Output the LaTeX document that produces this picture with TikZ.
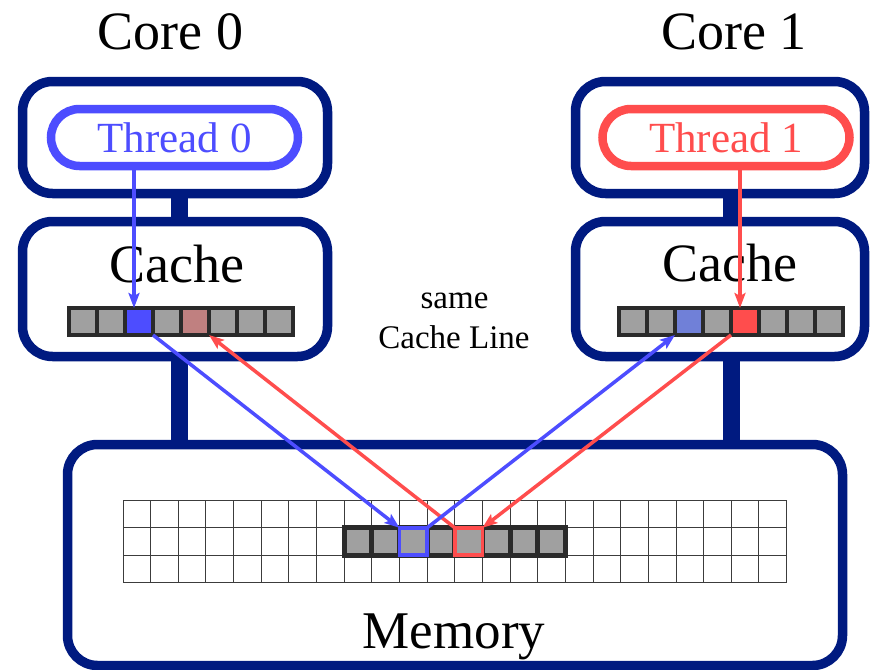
\documentclass[tikz,border=0pt]{standalone}
\usepackage{fontspec}
\setmainfont{Liberation Serif}
\usetikzlibrary{arrows.meta}
\definecolor{navy}{RGB}{0,26,128}
\definecolor{tblue}{RGB}{77,77,255}
\definecolor{tred}{RGB}{255,77,77}
\definecolor{cgray}{RGB}{160,160,160}
\definecolor{cdark}{RGB}{42,42,42}
\definecolor{rosy}{RGB}{192,128,128}
\definecolor{paleblue}{RGB}{112,128,216}
\definecolor{gline}{RGB}{60,60,60}
\tikzset{
  box/.style={draw=navy, line width=9.5pt, rounded corners=30pt},
  stem/.style={draw=navy, line width=17pt},
  pill/.style={line width=8.5pt, rounded corners=28.5pt, minimum width=247pt, minimum height=57pt, inner sep=0pt, font=\fontsize{43}{48}\selectfont},
  cell/.style={draw=cdark, fill=cgray, line width=4pt, minimum width=28pt, minimum height=27pt, inner sep=0pt, outer sep=0pt},
  mcell/.style={draw=cdark, fill=cgray, line width=5pt, minimum width=27.65pt, minimum height=27.4pt, inner sep=0pt, outer sep=0pt},
  big/.style={font=\fontsize{54}{60}\selectfont, anchor=base, inner sep=0pt},
  small/.style={font=\fontsize{33}{38}\selectfont, anchor=base, inner sep=0pt},
  conn/.style={line width=3.5pt, -{Stealth[length=15pt,width=11pt,inset=3pt]}},
}
\begin{document}
\begin{tikzpicture}[x=1pt,y=-1pt]
\useasboundingbox (0,0) rectangle (871,670);
% stems
\draw[stem] (179,193.5) -- (179,221.5);
\draw[stem] (179,356.5) -- (179,444.5);
\draw[stem] (731,193.5) -- (731,221.5);
\draw[stem] (731,356.5) -- (731,444.5);
% boxes
\draw[box, fill=white] (22.5,81.5) rectangle (327.5,193.5);
\draw[box, fill=white] (22.5,221.5) rectangle (327.5,356.5);
\draw[box, fill=white] (575.5,81.5) rectangle (864.5,193.5);
\draw[box, fill=white] (575.5,221.5) rectangle (864.5,356.5);
\draw[box, fill=white] (67.5,444.5) rectangle (842.5,665.5);
% titles
\node[big] (core0) at (170.5,49) {Core 0};
\node[big] (core1) at (734,49) {Core 1};
\node[big] (cache0) at (176.5,282) {Cache};
\node[big] (cache1) at (729.5,281) {Cache};
\node[small] (same) at (454.5,308) {same};
\node[small] (cline) at (454,348) {Cache Line};
\node[big, font=\fontsize{53}{60}\selectfont] (mem) at (454,648) {Memory};
% threads
\node[pill, draw=tblue, text=tblue] (t0) at (174.5,137.5) {Thread 0};
\node[pill, draw=tred, text=tred] (t1) at (726,137.5) {Thread 1};
% memory grid
\foreach \k in {0,...,24} \draw[gline, line width=1pt] (123+27.65*\k,500.5) -- (123+27.65*\k,582.7);
\foreach \r in {0,...,3} \draw[gline, line width=1pt] (123,500.5+27.4*\r) -- (786.6,500.5+27.4*\r);
% cache lines
\foreach \i in {0,...,7} {
  \node[cell] (L\i) at (83+28*\i,321.5) {};
  \node[cell] (R\i) at (633+28*\i,321.5) {};
}
\foreach \i in {8,...,15} \node[mcell] (M\i) at (123+27.65*\i+13.825,541.5) {};
\node[cell, fill=tblue] at (L2) {};
\node[cell, fill=rosy] at (L4) {};
\node[cell, fill=paleblue] at (R2) {};
\node[cell, fill=tred] at (R4) {};
\node[mcell, draw=tblue, line width=3.5pt] at (M10) {};
\node[mcell, draw=tred, line width=3.5pt] at (M12) {};
% connectors
\coordinate (a0) at ([xshift=-5pt]L2.north);
\coordinate (a1) at ([xshift=-5pt]R4.north);
\draw[conn, tblue] (t0.south -| a0) -- (a0);
\draw[conn, tred] (t1.south -| a1) -- (a1);
\draw[conn, tblue] (L2.south east) -- (M10.north west);
\draw[conn, tred] (M12.north west) -- (L4.south east);
\draw[conn, tblue] (M10.north east) -- (R2.south west);
\draw[conn, tred] (R4.south west) -- (M12.north east);
\end{tikzpicture}
\end{document}
